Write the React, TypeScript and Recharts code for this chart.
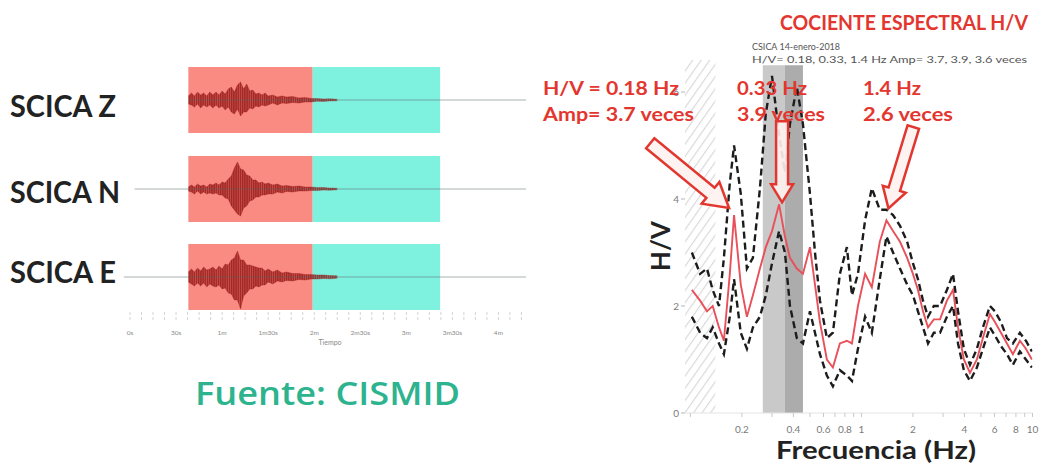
import React from 'react';
import {
  ComposedChart,
  Line,
  Area,
  XAxis,
  YAxis,
  ReferenceArea,
  ReferenceLine,
  ReferenceDot,
} from 'recharts';

/* ---------- Seismograms, station SCICA (Z / N / E) ---------- */

// envelope sample times (s from record start)
const envTime = [38, 40, 42, 44, 46, 48, 50, 52, 54, 56, 58, 60, 62, 64, 66, 68, 70, 72, 74, 76, 78, 80, 82, 84, 86, 88, 90, 93, 96, 99, 102, 106, 110, 114, 118, 122, 126, 130, 135];

// amplitude envelope of each component (upper / lower), counts scaled
const zUpper = [4, 7, 4, 8, 5, 7, 4, 8, 5, 8, 5, 9, 6, 11, 13, 8, 15, 18, 11, 16, 9, 10, 6, 7, 5, 7, 4, 5, 3, 4, 3, 3.5, 2, 2.5, 1.5, 1.5, 1, 1.2, 0.8];
const zLower = [-4, -5, -7, -4, -8, -5, -7, -5, -8, -5, -8, -6, -10, -7, -12, -14, -9, -16, -12, -12, -8, -9, -6, -7, -5, -6, -5, -3, -5, -3, -3.5, -2.5, -3, -2, -2, -1.2, -1.4, -0.9, -0.8];
const nUpper = [2, 4, 2, 5, 3, 4, 2, 5, 4, 6, 4, 7, 6, 10, 13, 21, 27, 20, 19, 14, 13, 9, 9, 6, 7, 5, 6, 4, 5, 3, 3.5, 2.5, 3, 2, 2, 1.5, 1.5, 1, 0.8];
const nLower = [-2, -3, -5, -2, -5, -3, -5, -4, -5, -4, -6, -6, -9, -10, -17, -21, -25, -27, -19, -17, -12, -11, -8, -8, -6, -6, -5, -5, -3, -4, -2.5, -3, -2, -2, -1.5, -1.6, -1, -1.2, -0.8];
const eUpper = [5, 8, 5, 9, 6, 10, 7, 8, 10, 7, 11, 8, 13, 12, 17, 19, 26, 17, 17, 12, 12, 11, 10, 9, 9, 6, 8, 5, 7, 4, 5, 3.5, 3.5, 2.5, 2.5, 2, 2, 1.5, 1.2];
const eLower = [-5, -7, -9, -6, -9, -6, -10, -7, -9, -10, -8, -12, -11, -16, -17, -23, -23, -32, -19, -16, -12, -12, -9, -10, -8, -8, -5, -7, -4, -5, -3.5, -4, -2.5, -3, -2, -2, -1.5, -1.8, -1.2];

const traceNames = ['SCICA Z', 'SCICA N', 'SCICA E'];
const traceStartS = [38, 3, -4];
const traceEndS = 258;
const signalWindowS = [38, 119];
const noiseWindowS = [119, 202];
const timeDomainS = [-6, 262];
const timeTicksS = [0, 7.5, 15, 22.5, 30, 37.5, 45, 52.5, 60, 67.5, 75, 82.5, 90, 97.5, 105, 112.5, 120, 127.5, 135, 142.5, 150, 157.5, 165, 172.5, 180, 187.5, 195, 202.5, 210, 217.5, 225, 232.5, 240, 247.5, 255];
const timeTickLabels = ['0s', '30s', '1m', '1m30s', '2m', '2m30s', '3m', '3m30s', '4m'];

/* ---------- H/V spectral ratio, CSICA 14-enero-2018 ---------- */

const freqHz = [0.102, 0.114, 0.125, 0.135, 0.147, 0.157, 0.170, 0.18, 0.197, 0.214, 0.232, 0.255, 0.276, 0.300, 0.33, 0.357, 0.382, 0.419, 0.455, 0.500, 0.535, 0.572, 0.628, 0.681, 0.748, 0.822, 0.880, 0.954, 1.05, 1.15, 1.28, 1.4, 1.53, 1.68, 1.85, 2.0, 2.14, 2.29, 2.45, 2.65, 2.88, 3.16, 3.43, 3.67, 3.97, 4.31, 4.73, 5.13, 5.64, 6.03, 6.54, 7.09, 7.68, 8.44, 9.15, 9.92];
const hvMean = [2.3, 2.1, 1.9, 2.0, 1.6, 1.35, 2.6, 3.7, 2.4, 1.8, 2.2, 2.7, 3.1, 3.4, 3.9, 3.3, 2.9, 2.7, 2.6, 3.1, 2.4, 1.7, 1.0, 0.85, 1.3, 1.35, 1.3, 2.0, 2.6, 2.35, 3.2, 3.6, 3.4, 3.2, 2.9, 2.6, 2.3, 1.9, 1.6, 1.75, 1.75, 2.1, 2.3, 1.6, 1.0, 0.75, 1.0, 1.4, 1.85, 1.7, 1.5, 1.3, 1.1, 1.35, 1.2, 1.0];
const hvPlusStd = [3.0, 2.6, 2.7, 2.3, 2.0, 2.9, 4.3, 5.0, 4.1, 2.7, 2.9, 4.2, 5.6, 6.3, 5.2, 4.5, 5.4, 6.1, 5.4, 4.1, 3.0, 2.1, 1.4, 1.5, 2.6, 3.1, 2.2, 2.6, 3.6, 4.2, 3.8, 3.8, 3.7, 3.5, 3.2, 2.8, 2.5, 2.1, 1.8, 2.0, 2.0, 2.3, 2.6, 1.9, 1.2, 0.9, 1.2, 1.6, 2.0, 1.9, 1.7, 1.4, 1.3, 1.5, 1.35, 1.15];
const hvMinusStd = [1.8, 1.5, 1.4, 1.6, 1.3, 1.1, 1.8, 2.5, 1.5, 1.2, 1.6, 1.8, 2.2, 2.8, 3.4, 3.0, 2.0, 1.4, 1.3, 1.9, 1.5, 1.1, 0.7, 0.5, 0.8, 0.7, 0.6, 1.2, 1.8, 1.5, 2.5, 3.3, 3.0, 2.7, 2.4, 2.2, 1.9, 1.6, 1.3, 1.5, 1.5, 1.8, 2.0, 1.3, 0.8, 0.6, 0.85, 1.2, 1.6, 1.45, 1.25, 1.1, 0.9, 1.15, 1.0, 0.85];

const peakHz = [0.18, 0.33, 1.4];
const peakAmp = [3.7, 3.9, 3.6];
const peakBandHz = [0.265, 0.357, 0.455];
const lowLimitHz = [0.093, 0.14];
const hvDomainHz = [0.093, 10];
const hvTicksMajor = [0.2, 0.4, 0.6, 0.8, 1, 2, 4, 6, 8, 10];
const hvTicksMinor = [0.1, 0.3, 0.5, 0.7, 0.9, 3, 5, 7, 9];
const hvYTicks = [0, 2, 4, 6];

/* ---------- styling ---------- */

const RED_TEXT = '#e3362f';
const FONT = 'Lato, "Open Sans", sans-serif';

const arrowSpecs = [
  { dx: -5, dy: -7, angle: 39.4, length: 102, head: 24, headHalf: 14, shaftHalf: 6.5 },
  { dx: 3, dy: -2, angle: 90, length: 81, head: 18, headHalf: 11, shaftHalf: 6 },
  { dx: 2, dy: -12, angle: 107, length: 85, head: 20, headHalf: 12, shaftHalf: 6 },
];

function HollowArrow({ cx, cy, spec }: { cx?: number; cy?: number; spec: any }) {
  if (cx == null || cy == null) return null;
  const { dx, dy, angle, length, head, headHalf, shaftHalf } = spec;
  const pts = [
    [-length, -shaftHalf],
    [-head, -shaftHalf],
    [-head, -headHalf],
    [0, 0],
    [-head, headHalf],
    [-head, shaftHalf],
    [-length, shaftHalf],
  ]
    .map((p) => p.join(','))
    .join(' ');
  return (
    <polygon
      points={pts}
      transform={`translate(${cx + dx},${cy + dy}) rotate(${angle})`}
      fill="#fff2f1"
      fillOpacity={0.9}
      stroke="#e2372f"
      strokeWidth={2.5}
    />
  );
}

const traceTops = [67, 156, 244];
const BOX_H = 66;

function TraceRow({ index, upper, lower, withAxis }: { index: number; upper: number[]; lower: number[]; withAxis: boolean }) {
  const rows = envTime.map((t, i) => ({ t, band: [lower[i], upper[i]] }));
  const axisH = withAxis ? 40 : 0;
  const patId = `wave${index}`;
  return (
    <div style={{ position: 'absolute', left: 0, top: traceTops[index], width: 540, height: BOX_H + axisH }}>
      <ComposedChart
        width={540}
        height={BOX_H + axisH}
        data={rows}
        margin={{ top: 0, right: 7.8, bottom: 0, left: 120.8 }}
        style={{ fontFamily: FONT }}
      >
        <defs>
          {/* dense vertical striation, like an oscillating trace */}
          <pattern id={patId} width="2.2" height="6" patternUnits="userSpaceOnUse">
            <rect x="0" y="0" width="2.2" height="6" fill="#b02624" fillOpacity="0.62" />
            <line x1="0.7" y1="0" x2="0.7" y2="6" stroke="#861212" strokeOpacity="0.85" strokeWidth="1" />
          </pattern>
        </defs>
        <XAxis
          type="number"
          dataKey="t"
          domain={timeDomainS}
          allowDataOverflow
          hide={!withAxis}
          height={axisH}
          ticks={timeTicksS}
          interval={0}
          axisLine={false}
          tickSize={16}
          tickMargin={4}
          tickLine={{ stroke: '#d4d4d4', strokeDasharray: '0 6 3 2 3 10' }}
          tick={{ fontSize: 6.5, fill: '#8a8a8a' }}
          tickFormatter={(v: number) => (v % 30 === 0 ? timeTickLabels[v / 30] : '')}
        />
        <YAxis hide type="number" domain={[-33, 33]} allowDataOverflow />
        <ReferenceArea x1={signalWindowS[0]} x2={signalWindowS[1]} y1={-33} y2={33} fill="#f98b83" fillOpacity={1} stroke="none" />
        <ReferenceArea x1={noiseWindowS[0]} x2={noiseWindowS[1]} y1={-33} y2={33} fill="#7ef1df" fillOpacity={1} stroke="none" />
        <ReferenceLine
          segment={[{ x: traceStartS[index], y: 0 }, { x: traceEndS, y: 0 }]}
          stroke="#5a6666"
          strokeOpacity={0.5}
          strokeWidth={1.2}
        />
        <Area
          type="linear"
          dataKey="band"
          stroke="#8e1414"
          strokeWidth={0.5}
          strokeOpacity={0.6}
          fill={`url(#${patId})`}
          fillOpacity={1}
          dot={false}
          activeDot={false}
          isAnimationActive={false}
        />
      </ComposedChart>
    </div>
  );
}

function HVChart() {
  const data = freqHz.map((f, i) => ({ f, mean: hvMean[i], hi: hvPlusStd[i], lo: hvMinusStd[i] }));
  const ticks = [...hvTicksMajor, ...hvTicksMinor].sort((a, b) => a - b);
  return (
    <div style={{ position: 'absolute', left: 640, top: 0, width: 403, height: 468 }}>
      <ComposedChart
        width={403}
        height={468}
        data={data}
        margin={{ top: 38.5, right: 10.5, bottom: 0, left: 0 }}
        style={{ fontFamily: FONT }}
      >
        <defs>
          <pattern id="lowHatch" width="7" height="7" patternUnits="userSpaceOnUse" patternTransform="rotate(35)">
            <line x1="0" y1="0" x2="0" y2="7" stroke="#d9d9d9" strokeWidth="2.4" />
          </pattern>
        </defs>
        <XAxis
          type="number"
          dataKey="f"
          scale="log"
          domain={hvDomainHz}
          allowDataOverflow
          ticks={ticks}
          interval={0}
          height={55}
          axisLine={{ stroke: '#e4e4e4' }}
          tickLine={{ stroke: '#c8c8c8' }}
          tickSize={4}
          tickMargin={9}
          tick={{ fontSize: 10, fill: '#7a7a7a' }}
          tickFormatter={(v: number) => (hvTicksMajor.includes(v) ? String(v) : '')}
        />
        <YAxis
          type="number"
          domain={[0, 7]}
          ticks={hvYTicks}
          width={45}
          axisLine={false}
          tickLine={{ stroke: '#b5b5b5' }}
          tickSize={4}
          tickMargin={2}
          tick={{ fontSize: 10, fill: '#7a7a7a' }}
        />
        <ReferenceArea x1={lowLimitHz[0]} x2={lowLimitHz[1]} y1={0} y2={6.6} fill="url(#lowHatch)" fillOpacity={1} stroke="none" />
        <ReferenceArea x1={peakBandHz[0]} x2={peakBandHz[1]} y1={0} y2={6.5} fill="#c9c9c9" fillOpacity={1} stroke="none" />
        <ReferenceArea x1={peakBandHz[1]} x2={peakBandHz[2]} y1={0} y2={6.5} fill="#acacac" fillOpacity={1} stroke="none" />
        <Line type="linear" dataKey="mean" stroke="#e8505a" strokeWidth={1.9} dot={false} activeDot={false} isAnimationActive={false} />
        <Line type="linear" dataKey="hi" stroke="#1c1c1c" strokeWidth={2.4} strokeDasharray="7 4" dot={false} activeDot={false} isAnimationActive={false} />
        <Line type="linear" dataKey="lo" stroke="#1c1c1c" strokeWidth={2.4} strokeDasharray="7 4" dot={false} activeDot={false} isAnimationActive={false} />
        {peakHz.map((f, i) => (
          <ReferenceDot
            key={f}
            x={f}
            y={peakAmp[i]}
            r={0}
            shape={(p: any) => <HollowArrow cx={p.cx} cy={p.cy} spec={arrowSpecs[i]} />}
          />
        ))}
      </ComposedChart>
    </div>
  );
}

function Txt(props: any) {
  const { children, w, ...rest } = props;
  return (
    <text {...rest} textLength={w} lengthAdjust="spacingAndGlyphs">
      {children}
    </text>
  );
}

export default function App() {
  return (
    <div style={{ position: 'absolute', left: 0, top: 0, width: 1043, height: 468, background: '#ffffff', overflow: 'hidden', fontFamily: FONT }}>
      <TraceRow index={0} upper={zUpper} lower={zLower} withAxis={false} />
      <TraceRow index={1} upper={nUpper} lower={nLower} withAxis={false} />
      <TraceRow index={2} upper={eUpper} lower={eLower} withAxis={true} />
      <HVChart />
      <svg width={1043} height={468} style={{ position: 'absolute', left: 0, top: 0, pointerEvents: 'none', fontFamily: FONT }}>
        {/* station / component labels */}
        <Txt x={10} y={117} fontSize={30} fontWeight={700} fill="#222" w={106}>{traceNames[0]}</Txt>
        <Txt x={10} y={203} fontSize={30} fontWeight={700} fill="#222" w={110}>{traceNames[1]}</Txt>
        <Txt x={10} y={283} fontSize={30} fontWeight={700} fill="#222" w={106}>{traceNames[2]}</Txt>
        <text x={330} y={345} fontSize={7} fill="#8a8a8a" textAnchor="middle">Tiempo</text>
        <Txt x={195} y={405} fontSize={32} fontWeight={600} fill="#2db38e" w={265} style={{ fontFamily: '"Open Sans", sans-serif' }}>Fuente: CISMID</Txt>

        {/* spectral ratio titles */}
        <Txt x={780} y={30} fontSize={20} fontWeight={700} fill={RED_TEXT} w={248}>COCIENTE ESPECTRAL H/V</Txt>
        <Txt x={752} y={50} fontSize={10} fill="#555" w={88}>CSICA 14-enero-2018</Txt>
        <Txt x={752} y={63} fontSize={10} fill="#555" w={275}>H/V= 0.18, 0.33, 1.4 Hz Amp= 3.7, 3.9, 3.6 veces</Txt>

        {/* peak annotations */}
        <Txt x={543} y={95} fontSize={19} fontWeight={700} fill={RED_TEXT} w={136}>H/V = 0.18 Hz</Txt>
        <Txt x={543} y={121} fontSize={19} fontWeight={700} fill={RED_TEXT} w={151}>Amp= 3.7 veces</Txt>
        <Txt x={737} y={95} fontSize={19} fontWeight={700} fill={RED_TEXT} w={70}>0.33 Hz</Txt>
        <Txt x={737} y={121} fontSize={19} fontWeight={700} fill={RED_TEXT} w={88}>3.9 veces</Txt>
        <Txt x={863} y={95} fontSize={19} fontWeight={700} fill={RED_TEXT} w={58}>1.4 Hz</Txt>
        <Txt x={863} y={121} fontSize={19} fontWeight={700} fill={RED_TEXT} w={90}>2.6 veces</Txt>

        {/* axis titles */}
        <g transform="translate(670,246) rotate(-90)">
          <Txt x={0} y={0} fontSize={26} fontWeight={700} fill="#222" textAnchor="middle" w={50}>H/V</Txt>
        </g>
        <Txt x={876} y={459} fontSize={25} fontWeight={700} fill="#222" textAnchor="middle" w={200}>Frecuencia (Hz)</Txt>
      </svg>
    </div>
  );
}
